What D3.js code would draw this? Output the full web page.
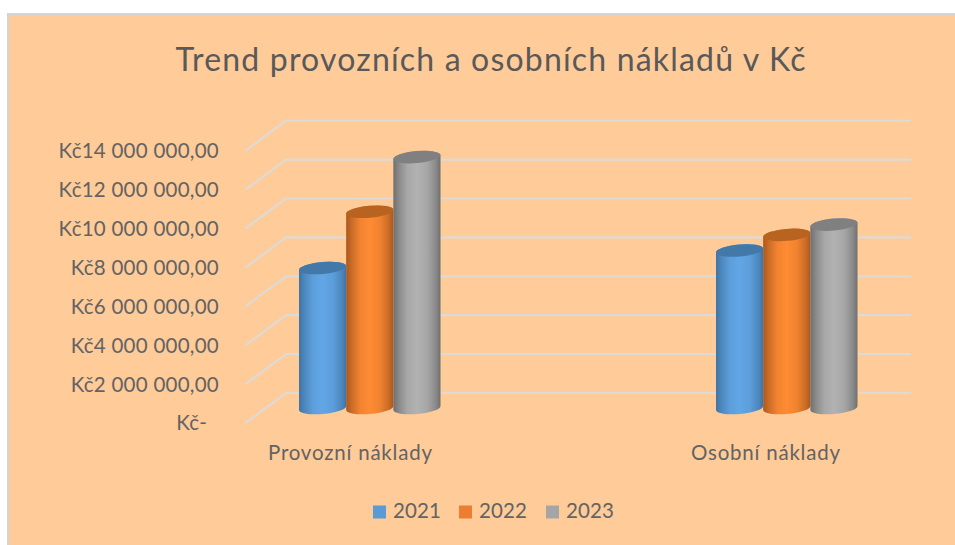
<!DOCTYPE html>
<html><head><meta charset="utf-8">
<script src="https://cdn.jsdelivr.net/npm/d3@7"></script>
<style>html,body{margin:0;padding:0;background:#fff}svg{display:block}text{font-family:Lato,"Open Sans",sans-serif}</style>
</head><body><svg id="c" width="955" height="545"></svg>
<script>
const categories = ["Provozní náklady", "Osobní náklady"];
const years = ["2021", "2022", "2023"];
const values2021 = [7200000, 8100000];
const values2022 = [10090000, 8900000];
const values2023 = [12900000, 9430000];
const tickValues = [0, 2000000, 4000000, 6000000, 8000000, 10000000, 12000000, 14000000];
const tickLabels = ["Kč-", "Kč2 000 000,00", "Kč4 000 000,00", "Kč6 000 000,00", "Kč8 000 000,00", "Kč10 000 000,00", "Kč12 000 000,00", "Kč14 000 000,00"];
const seriesColors = ["#5b9bd5", "#ed7d31", "#a5a5a5"];
const seriesDark = ["#3f74a3", "#a9581f", "#6f6f6f"];
const seriesLight = ["#62a6e6", "#ff8b33", "#b2b2b2"];
const seriesTop = ["#4379a8", "#b8631f", "#808080"];

const svg = d3.select("#c");
const series = [values2021, values2022, values2023];

svg.append("rect").attr("x",8).attr("y",14).attr("width",960).attr("height",540)
  .attr("fill","#fecb99").attr("stroke","#d4d4d4").attr("stroke-width",2);

const yBack = d3.scaleLinear().domain([0,14000000]).range([393,120.7]);
const yBase = d3.scaleLinear().domain([0,14000000]).range([408,135.7]);
const depth = {dy:30};
const xFront = 245.5, xBack = 286, xEnd = 911;

const grid = svg.append("g").attr("fill","none").attr("stroke","#dedad5").attr("stroke-width",2.2);
tickValues.forEach(v=>{
  const p = d3.path();
  p.moveTo(xFront, yBack(v)+depth.dy);
  p.lineTo(xBack, yBack(v));
  p.lineTo(xEnd, yBack(v));
  grid.append("path").attr("d",p.toString());
});

const yAxisScale = d3.scaleLinear().domain([0,14000000]).range([423,150.7]);
const axis = d3.axisLeft(yAxisScale).tickValues(tickValues)
  .tickFormat((d,i)=>tickLabels[i]).tickSize(0).tickPadding(0);
const ax = svg.append("g").attr("transform","translate(219,0)").call(axis);
ax.select(".domain").remove();
ax.selectAll("text").attr("fill","#636363").attr("font-size",20.5).style("font-family","Lato")
  .attr("letter-spacing",0.25)
  .attr("dy","0.34em")
  .attr("dx",(d)=>d===0?-12:0);

const groupLeft = d3.scaleOrdinal().domain(categories).range([299,716]);
const xInner = d3.scaleBand().domain(years).range([0,141.5]);
const defs = svg.append("defs");
years.forEach((y,i)=>{
  const mix = t=>d3.interpolateRgb(seriesDark[i],seriesLight[i])(t);
  const g = defs.append("linearGradient").attr("id","g"+i);
  [[0,mix(0)],[0.12,mix(0.4)],[0.3,mix(0.85)],[0.5,mix(1)],[0.72,mix(0.82)],[0.9,mix(0.4)],[1,mix(0)]]
   .forEach(s=>g.append("stop").attr("offset",s[0]).attr("stop-color",s[1]));
});
const rot = -5, ry = 6;
categories.forEach((c,ci)=>{
  years.forEach((y,si)=>{
    const l = groupLeft(c)+xInner(y), w = xInner.bandwidth(), r = l+w, rx = w/2;
    const tilt = rx*Math.sin(-rot*Math.PI/180);
    const v = series[si][ci], yt = yBase(v), yb = yBase(0);
    const d = `M${l},${yt+tilt}A${rx},${ry} ${rot} 0 1 ${r},${yt-tilt}L${r},${yb-tilt}A${rx},${ry} ${rot} 0 1 ${l},${yb+tilt}Z`;
    svg.append("path").attr("d",d).attr("fill",`url(#g${si})`);
    svg.append("ellipse").attr("cx",(l+r)/2).attr("cy",yt).attr("rx",rx).attr("ry",ry)
      .attr("transform",`rotate(${rot} ${(l+r)/2} ${yt})`).attr("fill",seriesTop[si]);
  });
});

const catCenters = [350, 765.5];
const catWidths = [164, 149];
svg.append("g").selectAll("text").data(categories).join("text")
  .attr("x",(d,i)=>catCenters[i]).attr("y",460).attr("text-anchor","middle")
  .attr("fill","#636363").attr("font-size",20.5).attr("textLength",(d,i)=>catWidths[i]).text(d=>d);

svg.append("text").attr("x",490.5).attr("y",71).attr("text-anchor","middle")
  .attr("fill","#595959").attr("font-size",32).attr("textLength",630).text("Trend provozních a osobních nákladů v Kč");

const legX = [373,459,546];
years.forEach((y,i)=>{
  svg.append("rect").attr("x",legX[i]).attr("y",505.5).attr("width",13).attr("height",13).attr("fill",seriesColors[i]);
  svg.append("text").attr("x",legX[i]+20).attr("y",518).attr("fill","#636363").attr("font-size",20.5).attr("letter-spacing",0.15).text(y);
});
</script></body></html>
